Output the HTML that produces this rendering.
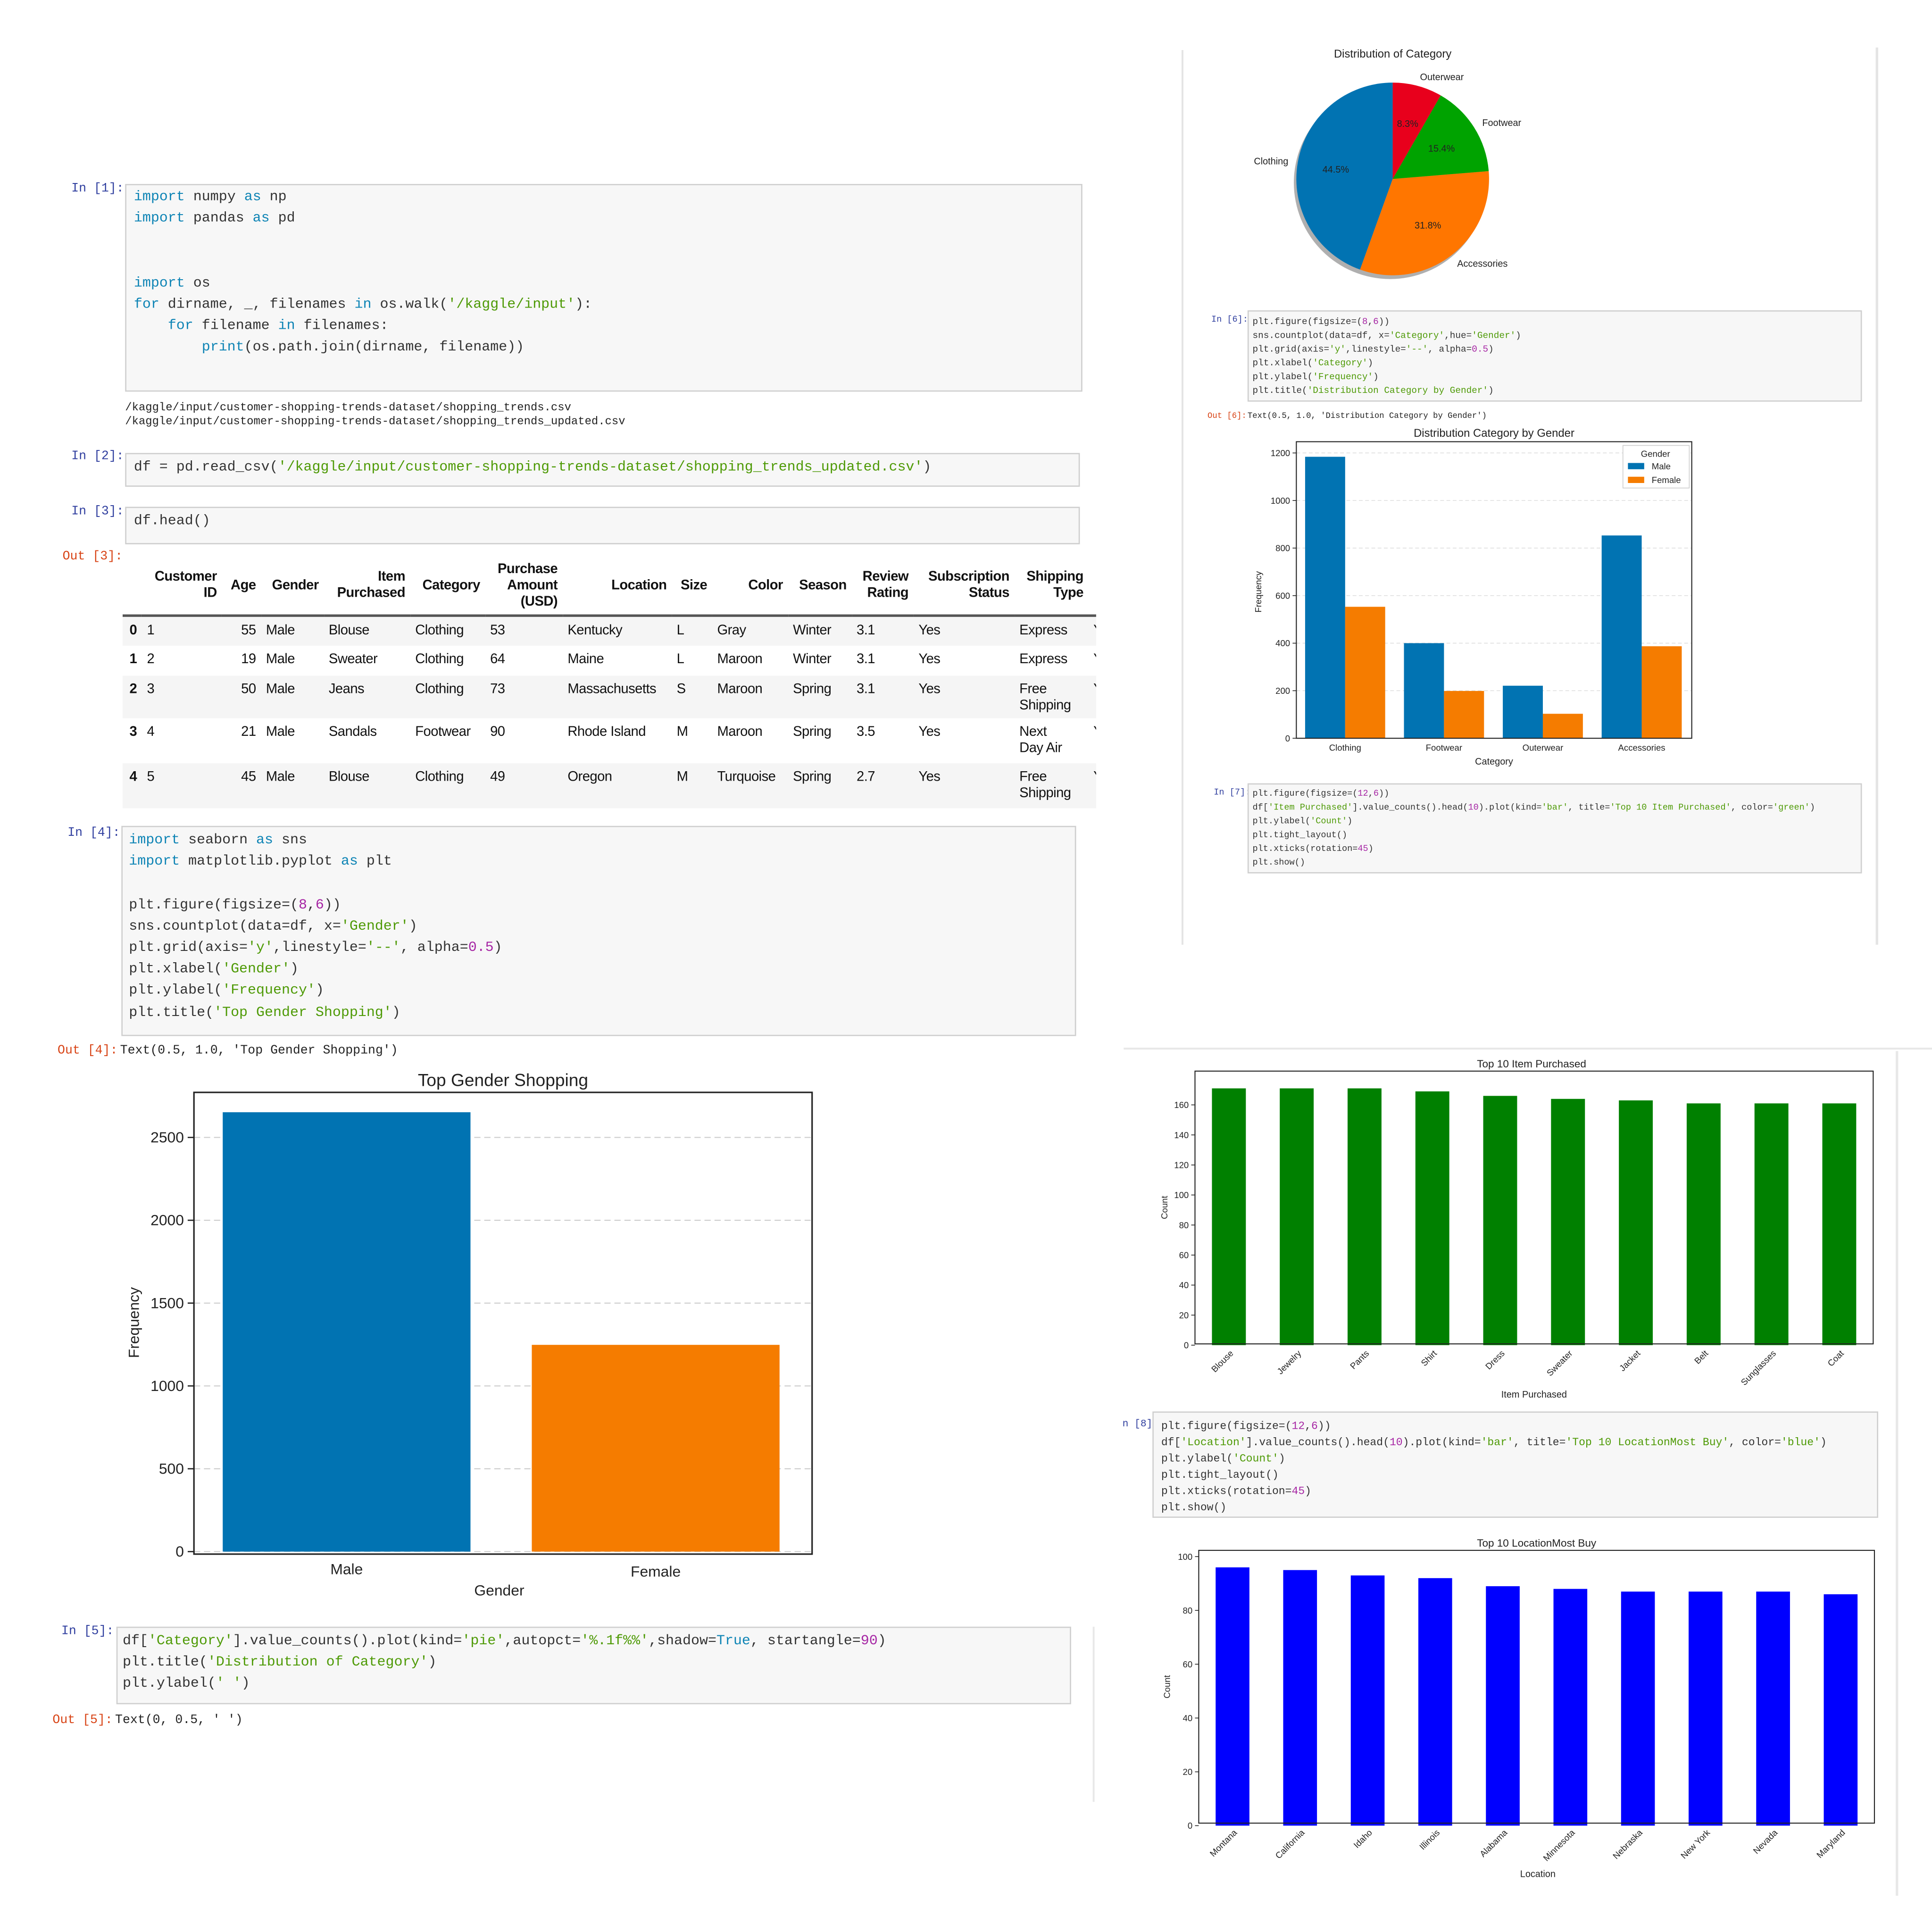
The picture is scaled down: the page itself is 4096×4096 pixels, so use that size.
<!DOCTYPE html>
<html><head><meta charset="utf-8">
<style>
html,body{margin:0;padding:0;background:#fff;}
#root{position:absolute;left:0;top:0;width:1544px;height:1544px;transform:scale(2.65285);transform-origin:0 0;font-family:"Liberation Sans",sans-serif;overflow:hidden;}
.lbl{position:absolute;font-family:"Liberation Mono",monospace;font-size:10px;color:#303f9f;}
.out{position:absolute;font-family:"Liberation Mono",monospace;font-size:10px;color:#d84315;}
.code{position:absolute;background:#f7f7f7;border:1px solid #cfcfcf;font-family:"Liberation Mono",monospace;color:#333;white-space:pre;box-sizing:border-box;overflow:hidden;}
.k{color:#0e84b5;} .s{color:#4e9a06;} .n{color:#a626a4;} .o{color:#aa22ff;}
.txt{position:absolute;font-family:"Liberation Mono",monospace;white-space:pre;color:#222;}
table{position:absolute;border-collapse:collapse;font-size:11px;color:#111;letter-spacing:-0.2px;}
th{font-weight:bold;text-align:right;vertical-align:middle;padding:0 4px;line-height:13px;}
td{padding:0 4px;text-align:left;vertical-align:top;padding-top:5px;line-height:13px;}
tr.r th{vertical-align:top;padding-top:5px;}
svg text{font-family:"Liberation Sans",sans-serif;}
</style></head><body>
<div id="root">

<div class="lbl" style="left:57px;top:146px">In [1]:</div>
<div class="code" style="left:100px;top:147px;width:765px;height:166px;padding:2px 6px;font-size:11.3px;line-height:17.2px;"><span class="k">import</span> numpy <span class="k">as</span> np
<span class="k">import</span> pandas <span class="k">as</span> pd


<span class="k">import</span> os
<span class="k">for</span> dirname, _, filenames <span class="k">in</span> os.walk(<span class="s">'/kaggle/input'</span>):
    <span class="k">for</span> filename <span class="k">in</span> filenames:
        <span class="k">print</span>(os.path.join(dirname, filename))</div>
<div class="txt" style="left:100px;top:321px;font-size:9px;line-height:11px;">/kaggle/input/customer-shopping-trends-dataset/shopping_trends.csv
/kaggle/input/customer-shopping-trends-dataset/shopping_trends_updated.csv</div>

<div class="lbl" style="left:57px;top:360px">In [2]:</div>
<div class="code" style="left:100px;top:362px;width:763px;height:27px;padding:5px 6px;font-size:11.3px;">df = pd.read_csv(<span class="s">'/kaggle/input/customer-shopping-trends-dataset/shopping_trends_updated.csv'</span>)</div>

<div class="lbl" style="left:57px;top:404px">In [3]:</div>
<div class="code" style="left:100px;top:405px;width:763px;height:30px;padding:5px 6px;font-size:11.3px;">df.head()</div>
<div class="out" style="left:50px;top:440px">Out [3]:</div>

<div style="position:absolute;left:98px;top:445px;width:778px;height:210px;overflow:hidden">
<table style="left:0;top:0;width:800px">
<tr style="height:47px;border-bottom:2px solid #555">
<th></th><th>Customer<br>ID</th><th>Age</th><th>Gender</th><th>Item<br>Purchased</th><th>Category</th><th>Purchase<br>Amount<br>(USD)</th><th>Location</th><th>Size</th><th>Color</th><th>Season</th><th>Review<br>Rating</th><th>Subscription<br>Status</th><th>Shipping<br>Type</th><th>Dis<br>A</th></tr>
<tr class="r" style="height:24px;background:#f5f5f5"><th>0</th><td>1</td><td style="text-align:right">55</td><td>Male</td><td>Blouse</td><td>Clothing</td><td>53</td><td>Kentucky</td><td>L</td><td>Gray</td><td>Winter</td><td>3.1</td><td>Yes</td><td>Express</td><td>Yes</td></tr>
<tr class="r" style="height:24px"><th>1</th><td>2</td><td style="text-align:right">19</td><td>Male</td><td>Sweater</td><td>Clothing</td><td>64</td><td>Maine</td><td>L</td><td>Maroon</td><td>Winter</td><td>3.1</td><td>Yes</td><td>Express</td><td>Yes</td></tr>
<tr class="r" style="height:34px;background:#f5f5f5"><th>2</th><td>3</td><td style="text-align:right">50</td><td>Male</td><td>Jeans</td><td>Clothing</td><td>73</td><td>Massachusetts</td><td>S</td><td>Maroon</td><td>Spring</td><td>3.1</td><td>Yes</td><td>Free<br>Shipping</td><td>Yes</td></tr>
<tr class="r" style="height:36px"><th>3</th><td>4</td><td style="text-align:right">21</td><td>Male</td><td>Sandals</td><td>Footwear</td><td>90</td><td>Rhode Island</td><td>M</td><td>Maroon</td><td>Spring</td><td>3.5</td><td>Yes</td><td>Next<br>Day Air</td><td>Yes</td></tr>
<tr class="r" style="height:36px;background:#f5f5f5"><th>4</th><td>5</td><td style="text-align:right">45</td><td>Male</td><td>Blouse</td><td>Clothing</td><td>49</td><td>Oregon</td><td>M</td><td>Turquoise</td><td>Spring</td><td>2.7</td><td>Yes</td><td>Free<br>Shipping</td><td>Yes</td></tr>
</table></div>

<div class="lbl" style="left:54px;top:661px">In [4]:</div>
<div class="code" style="left:97px;top:660px;width:763px;height:168px;padding:3px 5px;font-size:11.3px;line-height:17.2px;"><span class="k">import</span> seaborn <span class="k">as</span> sns
<span class="k">import</span> matplotlib.pyplot <span class="k">as</span> plt

plt.figure(figsize=(<span class="n">8</span>,<span class="n">6</span>))
sns.countplot(data=df, x=<span class="s">'Gender'</span>)
plt.grid(axis=<span class="s">'y'</span>,linestyle=<span class="s">'--'</span>, alpha=<span class="n">0.5</span>)
plt.xlabel(<span class="s">'Gender'</span>)
plt.ylabel(<span class="s">'Frequency'</span>)
plt.title(<span class="s">'Top Gender Shopping'</span>)</div>
<div class="out" style="left:46px;top:835px">Out [4]:</div>
<div class="txt" style="left:96px;top:835px;font-size:10px">Text(0.5, 1.0, 'Top Gender Shopping')</div>

<div class="lbl" style="left:49px;top:1299px">In [5]:</div>
<div class="code" style="left:93px;top:1300px;width:763px;height:62px;padding:3px 4px;font-size:11.3px;line-height:17.2px;">df[<span class="s">'Category'</span>].value_counts().plot(kind=<span class="s">'pie'</span>,autopct=<span class="s">'%.1f%%'</span>,shadow=<span class="k">True</span>, startangle=<span class="n">90</span>)
plt.title(<span class="s">'Distribution of Category'</span>)
plt.ylabel(<span class="s">' '</span>)</div>
<div class="out" style="left:42px;top:1370px">Out [5]:</div>
<div class="txt" style="left:92px;top:1370px;font-size:10px">Text(0, 0.5, ' ')</div>

<div class="lbl" style="left:968px;top:252px;font-size:7px">In [6]:</div>
<div class="code" style="left:997px;top:248px;width:491px;height:73px;padding:4px 3px;font-size:7.3px;line-height:11px;">plt.figure(figsize=(<span class="n">8</span>,<span class="n">6</span>))
sns.countplot(data=df, x=<span class="s">'Category'</span>,hue=<span class="s">'Gender'</span>)
plt.grid(axis=<span class="s">'y'</span>,linestyle=<span class="s">'--'</span>, alpha=<span class="n">0.5</span>)
plt.xlabel(<span class="s">'Category'</span>)
plt.ylabel(<span class="s">'Frequency'</span>)
plt.title(<span class="s">'Distribution Category by Gender'</span>)</div>
<div class="out" style="left:965px;top:329px;font-size:6.5px">Out [6]:</div>
<div class="txt" style="left:997px;top:329px;font-size:6.5px">Text(0.5, 1.0, 'Distribution Category by Gender')</div>

<div class="lbl" style="left:970px;top:630px;font-size:7px">In [7]:</div>
<div class="code" style="left:997px;top:626px;width:491px;height:72px;padding:3px 3px;font-size:7px;line-height:11px;">plt.figure(figsize=(<span class="n">12</span>,<span class="n">6</span>))
df[<span class="s">'Item Purchased'</span>].value_counts().head(<span class="n">10</span>).plot(kind=<span class="s">'bar'</span>, title=<span class="s">'Top 10 Item Purchased'</span>, color=<span class="s">'green'</span>)
plt.ylabel(<span class="s">'Count'</span>)
plt.tight_layout()
plt.xticks(rotation=<span class="n">45</span>)
plt.show()</div>

<div class="lbl" style="left:897px;top:1134px;font-size:8px">n [8]:</div>
<div class="code" style="left:921px;top:1128px;width:580px;height:85px;padding:5px 6px;font-size:8.7px;line-height:13px;">plt.figure(figsize=(<span class="n">12</span>,<span class="n">6</span>))
df[<span class="s">'Location'</span>].value_counts().head(<span class="n">10</span>).plot(kind=<span class="s">'bar'</span>, title=<span class="s">'Top 10 LocationMost Buy'</span>, color=<span class="s">'blue'</span>)
plt.ylabel(<span class="s">'Count'</span>)
plt.tight_layout()
plt.xticks(rotation=<span class="n">45</span>)
plt.show()</div>

<svg id="charts" width="1544" height="1544" viewBox="0 0 1544 1544" style="position:absolute;left:0;top:0">
<line x1="945" y1="40" x2="945" y2="755" stroke="#e4e4e4" stroke-width="1.5"/>
<line x1="1500" y1="38" x2="1500" y2="755" stroke="#e4e4e4" stroke-width="2"/>
<line x1="898" y1="838" x2="1544" y2="838" stroke="#e8e8e8" stroke-width="1.5"/>
<line x1="1516" y1="840" x2="1516" y2="1515" stroke="#e8e8e8" stroke-width="2"/>
<line x1="874" y1="1300" x2="874" y2="1440" stroke="#e8e8e8" stroke-width="1.5"/>
<g id="gGender"></g>
<g id="gPie"></g>
<g id="gCat"></g>
<g id="gItem"></g>
<g id="gLoc"></g>
</svg>
</div>
<script>
const genderCats = ['Male','Female'];
const genderVals = [2652, 1248];
const genderTicks = [0,500,1000,1500,2000,2500];

const pieLabels = ['Clothing','Accessories','Footwear','Outerwear'];
const pieVals = [44.5, 31.8, 15.4, 8.3];

const catCats = ['Clothing','Footwear','Outerwear','Accessories'];
const catMale = [1184, 400, 221, 853];
const catFemale = [553, 199, 103, 387];
const catTicks = [0,200,400,600,800,1000,1200];

const itemCats = ['Blouse','Jewelry','Pants','Shirt','Dress','Sweater','Jacket','Belt','Sunglasses','Coat'];
const itemVals = [171,171,171,169,166,164,163,161,161,161];
const itemTicks = [0,20,40,60,80,100,120,140,160];

const locCats = ['Montana','California','Idaho','Illinois','Alabama','Minnesota','Nebraska','New York','Nevada','Maryland'];
const locVals = [96,95,93,92,89,88,87,87,87,86];
const locTicks = [0,20,40,60,80,100];

const NS='http://www.w3.org/2000/svg';
function mk(parent,tag,attrs,text){const e=document.createElementNS(NS,tag);for(const k in attrs)e.setAttribute(k,attrs[k]);if(text!==undefined)e.textContent=text;parent.appendChild(e);return e;}
function lin(d0,d1,r0,r1){return v=>r0+(v-d0)*(r1-r0)/(d1-d0);}

/* Gender chart */
(function(){
 const g=document.getElementById('gGender');
 const L=155,R=649,T=873,B=1242;
 const y=lin(0,2500,1240,909);
 const t=mk(g,'text',{x:402,y:868,'font-size':14,'text-anchor':'middle',fill:'#222'},'Top Gender Shopping');
 
 
 genderTicks.forEach(v=>{
  const gl=mk(g,'line',{x1:L,x2:R,y1:y(v),y2:y(v),stroke:'#ccc','stroke-dasharray':'5,3','stroke-width':0.8});
  
  
  mk(g,'line',{x1:L-5,x2:L,y1:y(v),y2:y(v),stroke:'#222'});
  const tl=mk(g,'text',{x:L-8,y:y(v)+4,'font-size':12,'text-anchor':'end',fill:'#222'},String(v));
  
  
 });
 const cols=['#0173b2','#f57c00'];
 const bw=198, step=247, x0=178;
 genderVals.forEach((v,i)=>{
  const r=mk(g,'rect',{x:x0+i*step,y:y(v),width:bw,height:y(0)-y(v),fill:cols[i]});
  
  
  const xl=mk(g,'text',{x:x0+i*step+bw/2,y:1258+i*2,'font-size':12,'text-anchor':'middle',fill:'#222'},genderCats[i]);
  
  
 });
 const fr=mk(g,'rect',{x:L,y:T,width:R-L,height:B-T,fill:'none',stroke:'#222','stroke-width':1.2});
 
 
 const xt=mk(g,'text',{x:399,y:1275,'font-size':12,'text-anchor':'middle',fill:'#222'},'Gender');
 
 
 const yt=mk(g,'text',{x:0,y:0,'font-size':12,'text-anchor':'middle',fill:'#222',transform:'translate(111,1057) rotate(-90)'},'Frequency');
 
 
})();

/* Pie */
(function(){
 const g=document.getElementById('gPie');
 const cx=1113,cy=143,r=77;
 const cols=['#0173b2','#ff7600','#00a300','#e8001c'];
 const tt=mk(g,'text',{x:1113,y:46,'font-size':9,'text-anchor':'middle',fill:'#222'},'Distribution of Category');
 
 
 const sh=mk(g,'circle',{cx:cx-2,cy:cy+3,r:r,fill:'#7a7a7a',opacity:0.6});
 
 
 const tot=pieVals.reduce((a,b)=>a+b,0);
 let a=90;
 pieVals.forEach((v,i)=>{
  const a2=a+v/tot*360;
  const p=d=>[cx+r*Math.cos(d*Math.PI/180),cy-r*Math.sin(d*Math.PI/180)];
  const [x1,y1]=p(a),[x2,y2]=p(a2);
  const large=(a2-a)>180?1:0;
  const s=mk(g,'path',{d:`M${cx},${cy} L${x1},${y1} A${r},${r} 0 ${large} 0 ${x2},${y2} Z`,fill:cols[i]});
  
  
  const m=(a+a2)/2*Math.PI/180;
  const lx=cx+1.1*r*Math.cos(m), ly=cy-1.1*r*Math.sin(m);
  const lb=mk(g,'text',{x:lx,y:ly+3,'font-size':7.5,'text-anchor':Math.cos(m)<0?'end':'start',fill:'#222'},pieLabels[i]);
  
  
  const pt=mk(g,'text',{x:cx+0.6*r*Math.cos(m),y:cy-0.6*r*Math.sin(m)+3,'font-size':7.5,'text-anchor':'middle',fill:'#222'},v.toFixed(1)+'%');
  
  
  a=a2;
 });
})();

/* Category by gender */
(function(){
 const g=document.getElementById('gCat');
 const L=1036,R=1352,T=353,B=590;
 const y=lin(0,1200,590,362);
 const tt=mk(g,'text',{x:1194,y:349,'font-size':9,'text-anchor':'middle',fill:'#222'},'Distribution Category by Gender');
 
 
 catTicks.forEach(v=>{
  mk(g,'line',{x1:L,x2:R,y1:y(v),y2:y(v),stroke:'#ddd','stroke-dasharray':'3,2','stroke-width':0.6});
  mk(g,'line',{x1:L-3,x2:L,y1:y(v),y2:y(v),stroke:'#222','stroke-width':0.6});
  const tl=mk(g,'text',{x:L-5,y:y(v)+2.5,'font-size':7,'text-anchor':'end',fill:'#222'},String(v));
  
  
 });
 const step=79, bw=32, x0=1043;
 catCats.forEach((c,i)=>{
  const xm=x0+i*step;
  const bm=mk(g,'rect',{x:xm,y:y(catMale[i]),width:bw,height:y(0)-y(catMale[i]),fill:'#0173b2'});
  
  
  const bf=mk(g,'rect',{x:xm+bw,y:y(catFemale[i]),width:bw,height:y(0)-y(catFemale[i]),fill:'#f57c00'});
  
  
  const xl=mk(g,'text',{x:xm+bw,y:600,'font-size':7,'text-anchor':'middle',fill:'#222'},c);
  
  
 });
 mk(g,'rect',{x:L,y:T,width:R-L,height:B-T,fill:'none',stroke:'#222','stroke-width':0.8});
 const xt=mk(g,'text',{x:1194,y:611,'font-size':7.5,'text-anchor':'middle',fill:'#222'},'Category');
 
 
 const yt=mk(g,'text',{x:0,y:0,'font-size':7,'text-anchor':'middle',fill:'#222',transform:'translate(1008,473) rotate(-90)'},'Frequency');
 
 
 const lg=mk(g,'g',{});
 
 
 mk(lg,'rect',{x:1297,y:356,width:53,height:34,fill:'#fff',stroke:'#ccc','stroke-width':0.6});
 mk(lg,'text',{x:1323,y:365,'font-size':7,'text-anchor':'middle',fill:'#222'},'Gender');
 const e1=mk(lg,'rect',{x:1301,y:370,width:13,height:5,fill:'#0173b2'});
 
 
 mk(lg,'text',{x:1320,y:375,'font-size':7,fill:'#222'},'Male');
 const e2=mk(lg,'rect',{x:1301,y:381,width:13,height:5,fill:'#f57c00'});
 
 
 mk(lg,'text',{x:1320,y:386,'font-size':7,fill:'#222'},'Female');
})();

/* Simple bar charts */
function barChart(id,cats,vals,ticks,cfg){
 const g=document.getElementById(id);
 const y=lin(0,cfg.tmax,cfg.y0,cfg.ytop);
 const tt=mk(g,'text',{x:cfg.tx,y:cfg.ty,'font-size':8.5,'text-anchor':'middle',fill:'#222'},cfg.title);
 
 
 ticks.forEach(v=>{
  mk(g,'line',{x1:cfg.L-3,x2:cfg.L,y1:y(v),y2:y(v),stroke:'#222','stroke-width':0.6});
  const tl=mk(g,'text',{x:cfg.L-5,y:y(v)+2.5,'font-size':7,'text-anchor':'end',fill:'#222'},String(v));
  
  
 });
 const step=(cfg.R-cfg.L)/cats.length, bw=step*0.5;
 cats.forEach((c,i)=>{
  const xc=cfg.L+step*(i+0.5);
  const b=mk(g,'rect',{x:xc-bw/2,y:y(vals[i]),width:bw,height:y(0)-y(vals[i]),fill:cfg.color});
  
  
  const xl=mk(g,'text',{x:0,y:0,'font-size':7,'text-anchor':'end',fill:'#222',transform:`translate(${xc+4},${cfg.B+8}) rotate(-45)`},c);
  
  
 });
 mk(g,'rect',{x:cfg.L,y:cfg.T,width:cfg.R-cfg.L,height:cfg.B-cfg.T,fill:'none',stroke:'#222','stroke-width':0.8});
 const xt=mk(g,'text',{x:cfg.xtx,y:cfg.xty,'font-size':7.5,'text-anchor':'middle',fill:'#222'},cfg.xlabel);
 
 
 const yt=mk(g,'text',{x:0,y:0,'font-size':7,'text-anchor':'middle',fill:'#222',transform:`translate(${cfg.yax},${(cfg.T+cfg.B)/2}) rotate(-90)`},'Count');
 
 
}
barChart('gItem',itemCats,itemVals,itemTicks,{name:'item-chart',L:955,R:1497,T:856,B:1074,y0:1075,ytop:883,tmax:160,color:'#008000',title:'Top 10 Item Purchased',tx:1224,ty:853,xlabel:'Item Purchased',xtx:1226,xty:1117,yax:933});
barChart('gLoc',locCats,locVals,locTicks,{name:'location-chart',L:958,R:1498,T:1239,B:1457,y0:1459,ytop:1244,tmax:100,color:'#0000ff',title:'Top 10 LocationMost Buy',tx:1228,ty:1236,xlabel:'Location',xtx:1229,xty:1500,yax:935});
</script>
</body></html>
